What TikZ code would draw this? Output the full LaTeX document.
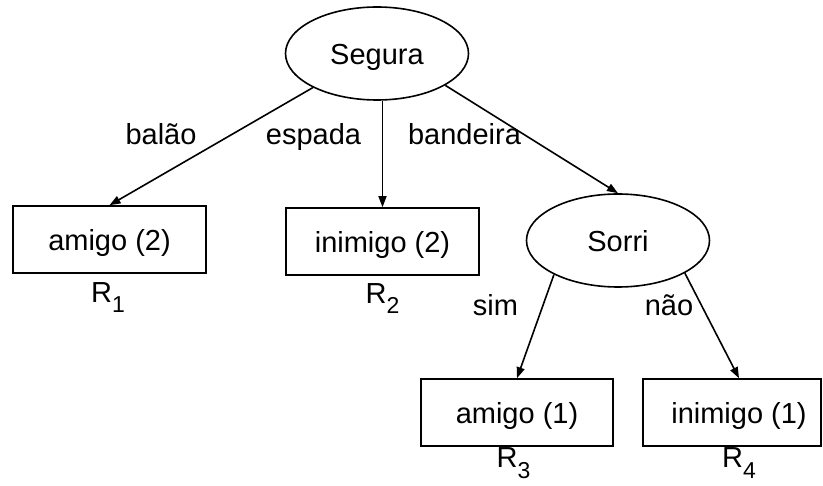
\documentclass[tikz,border=0pt]{standalone}
\usepackage{fontspec}
\setmainfont{Liberation Sans}
\usetikzlibrary{shapes.geometric,arrows.meta}
% rule label with a lowered index
\newcommand{\rlab}[1]{R\raisebox{-10pt}{\fontsize{23}{23}\selectfont #1}}

\begin{document}
\begin{tikzpicture}[x=1pt,y=-1pt,
  every node/.style={font=\fontsize{29}{33}\selectfont, inner sep=0pt},
  decision/.style={ellipse, draw, line width=1.6pt, minimum width=183pt, minimum height=93pt,
    text height=22pt, text depth=0pt},
  leaf/.style={rectangle, draw, line width=1.6pt, minimum width=193pt, minimum height=67pt,
    text height=22pt, text depth=0pt},
  branch/.style={line width=1.6pt, -{Triangle[length=11pt,width=8pt]}},
  lbl/.style={anchor=base}]
\useasboundingbox (0,0) rectangle (823,486);

% attribute tests
\node[decision] (segura) at (377,53.5) {Segura};
\node[decision] (sorri) at (618,240.5) {Sorri};

% leaves
\node[leaf] (a2) at (109.5,239.5) {amigo (2)};
\node[leaf] (i2) at (382.5,241.5) {inimigo (2)};
\node[leaf, minimum width=192pt] (a1) at (517,412.5) {amigo (1)};
\node[leaf, minimum width=178pt] (i1) at (732,412.5) {};
\node[text height=22pt, text depth=0pt] (i1t) at (739,412.5) {inimigo (1)};

% rule names
\node[lbl] (r1) at (108,303) {\rlab{1}};
\node[lbl] (r2) at (382.5,304) {\rlab{2}};
\node[lbl] (r3) at (513.5,468) {\rlab{3}};
\node[lbl] (r4) at (739,468) {\rlab{4}};

% branches
\draw[branch] (segura.208.7) -- (a2.north);
\draw[branch] (i2.north |- segura.south) -- (i2.north);
\draw[branch] (segura.335) -- (sorri.north);
\draw[branch] (sorri.208.3) -- (a1.north);
\draw[branch] (sorri.334.7) -- (i1t |- i1.north);

% branch values
\node[lbl] (lb1) at (161,145) {balão};
\node[lbl] (lb2) at (313.5,145) {espada};
\node[lbl] (lb3) at (464.5,145) {bandeira};
\node[lbl] (lb4) at (495.5,316) {sim};
\node[lbl] (lb5) at (669,316) {não};
\end{tikzpicture}
\end{document}
